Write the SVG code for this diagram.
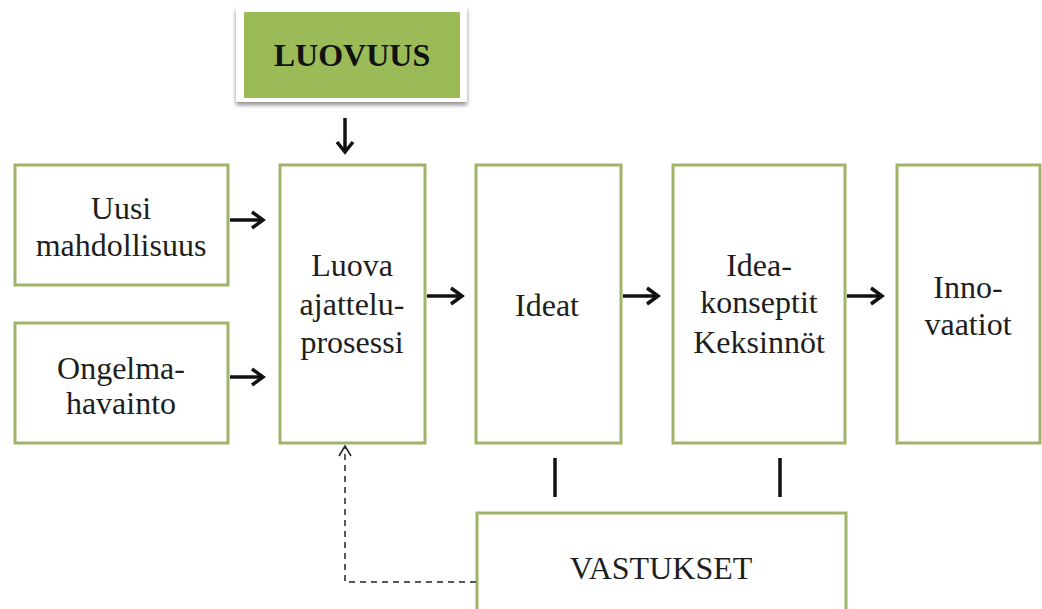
<svg xmlns="http://www.w3.org/2000/svg" width="1042" height="609" viewBox="0 0 1042 609">
<style>
.box{fill:#ffffff;stroke:#9fb46a;stroke-width:3}
.t{font-family:'Liberation Serif','DejaVu Serif',serif;font-size:32px;fill:#1e1e1e;text-anchor:middle}
.tb{font-family:'Liberation Serif','DejaVu Serif',serif;font-size:32px;font-weight:bold;fill:#111;text-anchor:middle}
.c{stroke:#111;stroke-width:3.5;fill:none}
.h{stroke:#111;stroke-width:3.5;fill:none;stroke-linejoin:miter}
.d{stroke:#222;stroke-width:1.5;fill:none;stroke-dasharray:6 5}
</style>
<defs>
<filter id="sh" x="-10%" y="-10%" width="120%" height="130%">
<feGaussianBlur in="SourceAlpha" stdDeviation="2"/>
<feOffset dx="0" dy="3" result="b"/>
<feComponentTransfer><feFuncA type="linear" slope="0.45"/></feComponentTransfer>
<feMerge><feMergeNode/><feMergeNode in="SourceGraphic"/></feMerge>
</filter>
</defs>
<rect width="1042" height="609" fill="#ffffff"/>
<g id="luovuus">
<rect x="236" y="7" width="231" height="95" fill="#ffffff" filter="url(#sh)"/>
<rect x="244" y="12" width="216" height="86" fill="#9bbb59"/>
<text class="tb" x="352" y="66">LUOVUUS</text>
</g>
<g id="uusi">
<rect class="box" x="15" y="165" width="213" height="120"/>
<text class="t" x="121" y="219">Uusi</text>
<text class="t" x="121" y="256">mahdollisuus</text>
</g>
<g id="ongelma">
<rect class="box" x="15" y="323" width="213" height="120"/>
<text class="t" x="121" y="379">Ongelma-</text>
<text class="t" x="121" y="414">havainto</text>
</g>
<g id="luova">
<rect class="box" x="280" y="165" width="145" height="278"/>
<text class="t" x="352" y="276">Luova</text>
<text class="t" x="352" y="315">ajattelu-</text>
<text class="t" x="352" y="353">prosessi</text>
</g>
<g id="ideat">
<rect class="box" x="476" y="165" width="145" height="278"/>
<text class="t" x="547" y="316">Ideat</text>
</g>
<g id="ideakonseptit">
<rect class="box" x="673" y="165" width="172" height="278"/>
<text class="t" x="759" y="276">Idea-</text>
<text class="t" x="759" y="313">konseptit</text>
<text class="t" x="759" y="353">Keksinnöt</text>
</g>
<g id="innovaatiot">
<rect class="box" x="897" y="165" width="143" height="278"/>
<text class="t" x="968" y="298">Inno-</text>
<text class="t" x="968" y="335">vaatiot</text>
</g>
<g id="vastukset">
<rect class="box" x="477" y="513" width="369" height="110"/>
<text class="t" x="661" y="579">VASTUKSET</text>
</g>
<g id="connectors">
<path class="c" d="M345 118V152"/>
<path class="h" d="M337 142L345 152L353 142"/>
<path class="c" d="M230 220H263"/>
<path class="h" d="M252 212L263 220L252 228"/>
<path class="c" d="M230 377H263"/>
<path class="h" d="M252 369L263 377L252 385"/>
<path class="c" d="M427 296H462"/>
<path class="h" d="M451 288L462 296L451 304"/>
<path class="c" d="M623 296H658"/>
<path class="h" d="M647 288L658 296L647 304"/>
<path class="c" d="M847 296H882"/>
<path class="h" d="M871 288L882 296L871 304"/>
<path class="c" d="M555 458V497"/>
<path class="c" d="M780 458V497"/>
<path class="d" d="M476 582H345V446"/>
<path stroke="#222" stroke-width="1.5" fill="none" d="M339 456L345 446L351 456"/>
</g>
</svg>
